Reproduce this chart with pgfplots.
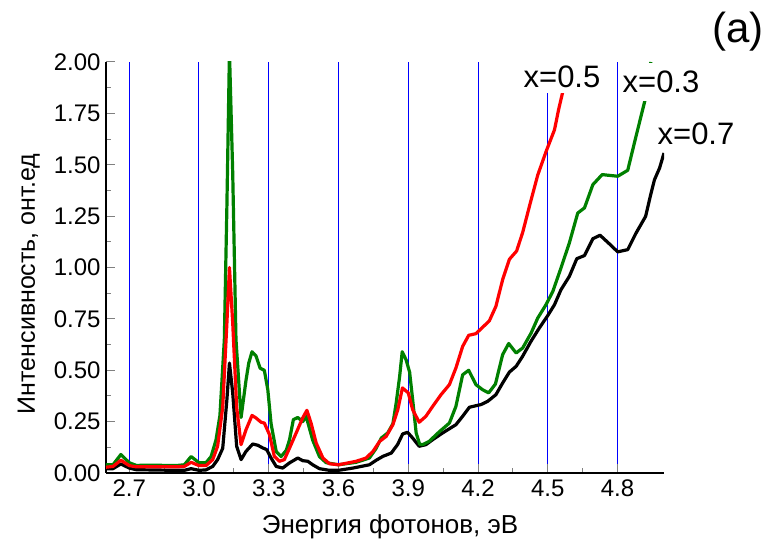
\documentclass[border=0pt]{standalone}
\usepackage{fontspec}
\setmainfont{Liberation Sans}
\usepackage{pgfplots}
\pgfplotsset{compat=1.18}
\definecolor{dgreen}{RGB}{0,128,0}
\definecolor{gblue}{RGB}{0,0,255}
\begin{document}
\begin{tikzpicture}
\useasboundingbox (-106pt,-67pt) rectangle (663pt,473pt);
\begin{axis}[
  at={(0pt,0pt)}, anchor=south west,
  scale only axis, width=558pt, height=411pt,
  xmin=2.6, xmax=5.0, ymin=0, ymax=2.0,
  axis x line*=bottom, axis y line*=left,
  axis line style={-, line width=1.2pt},
  xtick={2.7,3.0,3.3,3.6,3.9,4.2,4.5,4.8},
  ytick={0,0.25,0.5,0.75,1,1.25,1.5,1.75,2},
  minor x tick num=1, minor y tick num=1,
  tick align=inside,
  major tick length=9pt, minor tick length=5pt,
  tick style={line width=1pt},
  xmajorgrids=true,
  major grid style={gblue, line width=1pt},
  ticklabel style={font=\fontsize{24}{28}\selectfont},
  xticklabel style={yshift=-3pt, /pgf/number format/fixed, /pgf/number format/fixed zerofill, /pgf/number format/precision=1, /pgf/number format/assume math mode=true},
  yticklabel style={xshift=-2pt, /pgf/number format/fixed, /pgf/number format/fixed zerofill, /pgf/number format/precision=2, /pgf/number format/assume math mode=true},
  clip=true,
]
\addplot[black, line width=3.2pt, line join=round] coordinates {
(2.60,0.020)(2.63,0.021)(2.664,0.044)(2.70,0.024)(2.73,0.016)(2.90,0.013)(2.937,0.013)(2.966,0.021)
(3.00,0.013)(3.03,0.015)(3.059,0.032)(3.08,0.065)(3.102,0.120)(3.12,0.357)(3.131,0.535)(3.145,0.390)
(3.162,0.130)(3.181,0.065)(3.202,0.105)(3.231,0.141)(3.253,0.135)(3.274,0.122)(3.291,0.114)(3.31,0.073)
(3.332,0.032)(3.36,0.024)(3.389,0.049)(3.425,0.073)(3.446,0.060)(3.468,0.057)(3.489,0.040)(3.518,0.021)
(3.561,0.013)(3.60,0.013)(3.662,0.024)(3.733,0.040)(3.762,0.062)(3.791,0.081)(3.827,0.097)(3.854,0.138)
(3.876,0.190)(3.897,0.198)(3.919,0.170)(3.947,0.130)(3.976,0.138)(4.005,0.162)(4.048,0.195)(4.105,0.235)
(4.134,0.276)(4.163,0.320)(4.213,0.333)(4.242,0.349)(4.277,0.381)(4.306,0.438)(4.335,0.491)(4.364,0.519)
(4.392,0.568)(4.428,0.641)(4.464,0.706)(4.50,0.766)(4.529,0.819)(4.557,0.892)(4.593,0.957)(4.625,1.043)
(4.658,1.058)(4.694,1.140)(4.725,1.157)(4.766,1.114)(4.801,1.076)(4.844,1.087)(4.88,1.168)(4.921,1.249)
(4.941,1.346)(4.959,1.427)(4.981,1.484)(5.00,1.557)
};
\addplot[dgreen, line width=3.2pt, line join=round] coordinates {
(2.60,0.040)(2.63,0.040)(2.664,0.090)(2.70,0.050)(2.73,0.037)(2.80,0.038)(2.90,0.036)(2.937,0.040)
(2.966,0.080)(3.00,0.050)(3.03,0.050)(3.052,0.080)(3.073,0.160)(3.09,0.280)(3.109,0.650)(3.12,1.300)
(3.131,2.050)(3.145,1.460)(3.159,0.650)(3.181,0.270)(3.202,0.450)(3.214,0.535)(3.228,0.590)(3.245,0.570)
(3.263,0.510)(3.281,0.500)(3.296,0.405)(3.31,0.240)(3.332,0.105)(3.353,0.080)(3.375,0.110)(3.389,0.160)
(3.406,0.260)(3.425,0.270)(3.446,0.250)(3.461,0.275)(3.489,0.160)(3.518,0.080)(3.547,0.050)(3.60,0.040)
(3.676,0.052)(3.733,0.073)(3.762,0.120)(3.784,0.170)(3.812,0.195)(3.834,0.240)(3.848,0.340)(3.863,0.470)
(3.874,0.590)(3.891,0.550)(3.906,0.490)(3.919,0.357)(3.934,0.195)(3.949,0.140)(3.962,0.138)(3.99,0.154)
(4.033,0.200)(4.077,0.243)(4.105,0.324)(4.134,0.478)(4.16,0.500)(4.191,0.430)(4.22,0.405)(4.246,0.390)
(4.275,0.433)(4.306,0.576)(4.332,0.630)(4.364,0.584)(4.392,0.608)(4.428,0.680)(4.457,0.754)(4.493,0.820)
(4.522,0.884)(4.557,0.998)(4.593,1.120)(4.629,1.265)(4.658,1.290)(4.694,1.403)(4.734,1.452)(4.801,1.444)
(4.844,1.473)(4.88,1.640)(4.919,1.817)(4.943,2.000)
};
\addplot[red, line width=3.2pt, line join=round] coordinates {
(2.60,0.028)(2.63,0.032)(2.664,0.062)(2.70,0.036)(2.73,0.030)(2.90,0.030)(2.937,0.032)(2.966,0.052)
(3.00,0.036)(3.03,0.036)(3.059,0.065)(3.08,0.130)(3.102,0.320)(3.12,0.730)(3.131,1.000)(3.145,0.730)
(3.162,0.320)(3.181,0.138)(3.202,0.210)(3.228,0.280)(3.245,0.268)(3.267,0.247)(3.281,0.243)(3.303,0.187)
(3.324,0.081)(3.346,0.057)(3.367,0.065)(3.389,0.120)(3.418,0.195)(3.446,0.268)(3.464,0.305)(3.482,0.243)
(3.504,0.146)(3.533,0.073)(3.561,0.045)(3.60,0.040)(3.676,0.057)(3.719,0.073)(3.748,0.105)(3.777,0.154)
(3.805,0.178)(3.834,0.235)(3.855,0.308)(3.875,0.414)(3.90,0.390)(3.919,0.308)(3.947,0.247)(3.976,0.276)
(4.005,0.324)(4.041,0.381)(4.077,0.430)(4.105,0.511)(4.134,0.616)(4.16,0.670)(4.191,0.678)(4.22,0.709)
(4.249,0.741)(4.277,0.811)(4.306,0.941)(4.335,1.040)(4.366,1.080)(4.392,1.170)(4.424,1.310)(4.457,1.450)
(4.493,1.565)(4.529,1.670)(4.547,1.770)(4.565,1.857)
};
\end{axis}
\node[fill=white, inner xsep=3pt, inner ysep=5pt, anchor=base, font=\fontsize{31}{36}\selectfont] at (456pt,385pt) {x=0.5};
\node[fill=white, inner xsep=2pt, inner ysep=8pt, anchor=base, font=\fontsize{31}{36}\selectfont] at (555pt,380pt) {x=0.3};
\node[inner sep=0pt, anchor=base, font=\fontsize{31}{36}\selectfont] at (590pt,328pt) {x=0.7};
\node[inner sep=0pt, anchor=base, font=\fontsize{42}{48}\selectfont] at (632pt,430pt) {(a)};
\node[inner sep=0pt, anchor=base, font=\fontsize{26}{30}\selectfont] at (284pt,-61pt) {Энергия фотонов, эВ};
\node[inner sep=0pt, anchor=base, rotate=90, font=\fontsize{25}{30}\selectfont] at (-71pt,189pt) {Интенсивность, онт.ед};
\end{tikzpicture}
\end{document}
